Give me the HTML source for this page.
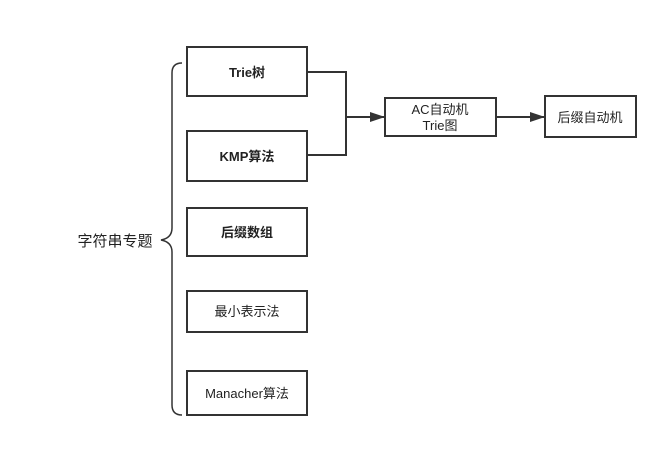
<!DOCTYPE html>
<html><head><meta charset="utf-8"><style>
body{margin:0;background:#fff;}
</style></head><body>
<svg width="668" height="449" xmlns="http://www.w3.org/2000/svg" style="display:block;font-family:'Liberation Sans','Noto Sans CJK SC',sans-serif">
<defs><marker id="a" markerWidth="15" markerHeight="10" refX="14" refY="5" orient="auto" markerUnits="userSpaceOnUse"><path d="M0,0 L15,5 L0,10 z" fill="#333"/></marker></defs>
<g fill="none" stroke="#333" stroke-width="2">
<rect x="187" y="47" width="120" height="49"/>
<rect x="187" y="131" width="120" height="50"/>
<rect x="187" y="208" width="120" height="48"/>
<rect x="187" y="291" width="120" height="41"/>
<rect x="187" y="371" width="120" height="44"/>
<rect x="385" y="98" width="111" height="38"/>
<rect x="545" y="96" width="91" height="41"/>
<path d="M307,72 H346 V155 H307"/>
<path d="M346,117 H384" marker-end="url(#a)"/>
<path d="M496,117 H544" marker-end="url(#a)"/>
<path d="M182,63 Q172,63 172,73 V228 Q172,238 161,240 Q172,242 172,252 V405 Q172,415 182,415" stroke-width="1.5"/>
</g>
<g font-size="13" fill="#222" text-anchor="middle">
<text x="247" y="77" font-weight="bold">Trie树</text>
<text x="247" y="161" font-weight="bold">KMP算法</text>
<text x="247" y="237" font-weight="bold">后缀数组</text>
<text x="247" y="316">最小表示法</text>
<text x="247" y="398">Manacher算法</text>
<text x="440" y="114">AC自动机</text>
<text x="440" y="130">Trie图</text>
<text x="590" y="122">后缀自动机</text>
<text x="115" y="246" font-size="15">字符串专题</text>
</g>
</svg>
</body></html>
